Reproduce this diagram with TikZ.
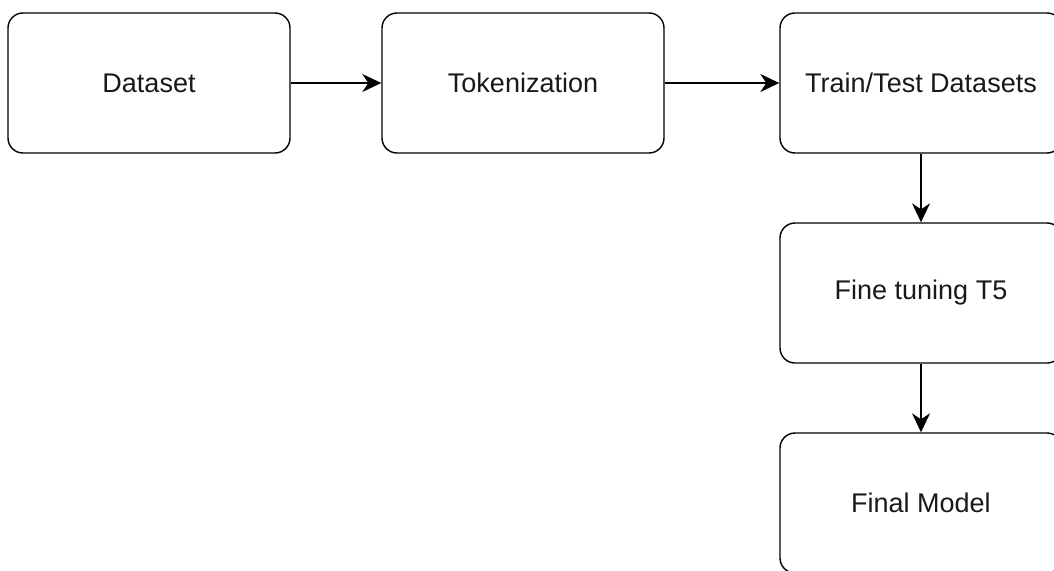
\documentclass[tikz,border=0pt]{standalone}
\usepackage{fontspec}
\setmainfont{Liberation Sans}
\usetikzlibrary{arrows.meta}
\begin{document}
\begin{tikzpicture}[x=1pt,y=-1pt,
  stepbox/.style={draw=black, line width=1.4pt, rounded corners=15pt,
    minimum width=282pt, minimum height=140pt, inner sep=0pt,
    font=\fontsize{27}{32}\selectfont, text=black!90},
  flow/.style={draw=black, line width=1.4pt,
    -{Stealth[length=19pt, width=18pt, inset=6pt]}}]
  \useasboundingbox (0,0) rectangle (1054,570);
  \clip (0,0) rectangle (1054,570);
  \fill[white] (0,0) rectangle (1054,570);
  % pipeline stages
  \node[stepbox] (data)  at (149,83)  {Dataset};
  \node[stepbox] (tok)   at (523,83)  {Tokenization};
  \node[stepbox] (split) at (921,83)  {Train/Test Datasets};
  \node[stepbox] (tune)  at (921,293) {Fine tuning T5};
  \node[stepbox] (final) at (921,503) {Final Model};
  % connectors
  \draw[flow] (data) -- (tok);
  \draw[flow] (tok) -- (split);
  \draw[flow] (split) -- (tune);
  \draw[flow] (tune) -- (final);
\end{tikzpicture}
\end{document}
